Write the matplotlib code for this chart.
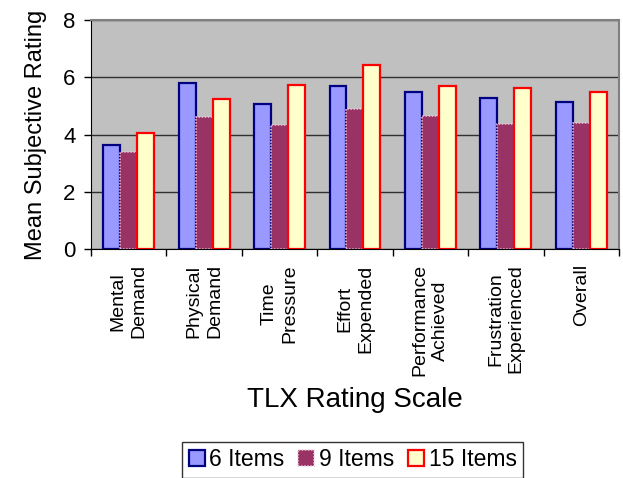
import numpy as np
import matplotlib.pyplot as plt

plt.rcParams['font.family'] = ['Liberation Sans', 'DejaVu Sans']

# NASA-TLX subscale means per questionnaire length
scales = ['Mental\nDemand', 'Physical\nDemand', 'Time\nPressure', 'Effort\nExpended',
          'Performance\nAchieved', 'Frustration\nExperienced', 'Overall']
items_6 = [3.64, 5.79, 5.08, 5.70, 5.48, 5.29, 5.15]
items_9 = [3.40, 4.63, 4.35, 4.91, 4.66, 4.37, 4.39]
items_15 = [4.04, 5.23, 5.72, 6.42, 5.70, 5.62, 5.47]
series_names = ['6 Items', '9 Items', '15 Items']

fig = plt.figure(figsize=(6.23, 4.78), dpi=100)
ax = fig.add_axes([0.146, 0.479, 0.8476, 0.479])
ax.set_facecolor('#C0C0C0')

x = np.arange(len(scales))
w = 0.225
b1 = ax.bar(x - w, items_6, w, color='#9999FF', edgecolor='#000080', linewidth=1.6,
            label=series_names[0])
b2 = ax.bar(x, items_9, w, color='#993366', edgecolor='#EBC8DC', linewidth=1.1,
            linestyle=(0, (1, 1)), label=series_names[1])
b3 = ax.bar(x + w, items_15, w, color='#FFFFCC', edgecolor='#FF0000', linewidth=1.6,
            label=series_names[2])

ax.set_xlim(-0.5, len(scales) - 0.5)
ax.set_ylim(0, 8)
ax.set_yticks([0, 2, 4, 6, 8])
ax.yaxis.grid(True, color='#303030', linewidth=1.0)
ax.set_axisbelow(True)
ax.tick_params(axis='y', labelsize=16, direction='out', length=5, width=1, pad=6)

# labels at category centres, tick marks on the boundaries
ax.set_xticks(x)
ax.set_xticklabels(scales, rotation=90, fontsize=14, multialignment='center',
                   linespacing=1.3)
ax.set_xticks(np.arange(len(scales) + 1) - 0.5, minor=True)
ax.tick_params(axis='x', which='major', length=0, pad=11)
ax.tick_params(axis='x', which='minor', length=5, width=1, direction='out')

for side in ['top', 'right']:
    ax.spines[side].set_color('#808080')
    ax.spines[side].set_linewidth(1.5)
ax.spines['left'].set_color('black')
ax.spines['bottom'].set_color('black')

ax.set_ylabel('Mean Subjective Rating', fontsize=17, labelpad=12)
fig.text(0.57, 0.163, 'TLX Rating Scale', fontsize=20, ha='center', va='center')

leg = fig.legend(handles=[b1, b2, b3], loc='center', bbox_to_anchor=(0.566, 0.038),
                 ncol=3, fontsize=16.5, frameon=True, fancybox=False,
                 handlelength=0.7, handleheight=0.7, handletextpad=0.2,
                 columnspacing=0.6, borderpad=0.28, borderaxespad=0)
leg.get_frame().set_edgecolor('black')
leg.get_frame().set_linewidth(1.0)

fig.savefig('out.png', dpi=100)
